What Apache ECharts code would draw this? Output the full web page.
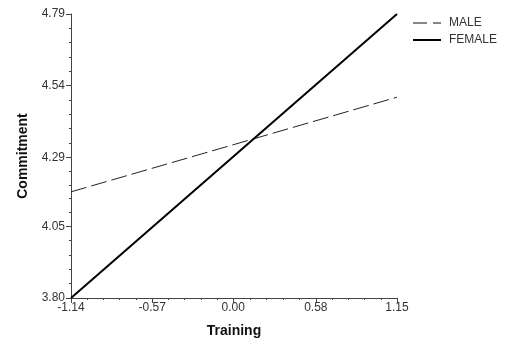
<!DOCTYPE html>
<html><head><meta charset="utf-8">
<script src="https://cdn.jsdelivr.net/npm/echarts@6/dist/echarts.min.js"></script>
<style>html,body{margin:0;padding:0;background:#fff}#c{width:508px;height:339px}</style>
</head><body><div id="c"></div>
<script>
const xTicks = [-1.14, -0.57, 0.00, 0.58, 1.15];
const yTicks = [3.80, 4.05, 4.29, 4.54, 4.79];
const seriesNames = ['MALE', 'FEMALE'];
const xEnds = [-1.14, 1.15];
const maleValues = [4.17, 4.50];
const femaleValues = [3.80, 4.79];

function minorOf(t){const out=[];for(let i=0;i<t.length-1;i++){for(let k=1;k<5;k++){out.push(t[i]+(t[i+1]-t[i])*k/5);}}return out;}
const font='Liberation Sans, Arial, sans-serif';
const axisColor='#444';
const chart=echarts.init(document.getElementById('c'),null,{renderer:'canvas'});
chart.setOption({
  animation:false,
  backgroundColor:'#fff',
  grid:{left:71,right:111,top:14,bottom:41,containLabel:false,outerBoundsMode:'none'},
  legend:{orient:'vertical',left:412,top:17,padding:0,itemWidth:28,itemHeight:14,itemGap:5,
    itemStyle:{opacity:0,borderWidth:0},
    textStyle:{fontFamily:font,fontSize:12,color:'#333',padding:[0,0,0,3]},
    data:[{name:seriesNames[0],lineStyle:{type:[14,6],width:1,color:'#111'}},
          {name:seriesNames[1],lineStyle:{type:'solid',width:2,color:'#000'}}]},
  xAxis:[{type:'value',min:xTicks[0],max:xTicks[xTicks.length-1],
    name:'Training',nameLocation:'middle',nameGap:26,
    nameTextStyle:{fontFamily:font,fontSize:14,fontWeight:'bold',color:'#111'},
    axisLine:{onZero:false,lineStyle:{color:axisColor,width:1}},
    axisTick:{customValues:xTicks,length:5,lineStyle:{color:axisColor}},
    axisLabel:{customValues:xTicks,formatter:v=>v.toFixed(2),fontFamily:font,fontSize:12,color:'#333',margin:4},
    splitLine:{show:false}},
   {type:'value',min:xTicks[0],max:xTicks[xTicks.length-1],position:'bottom',
    axisLine:{show:false,onZero:false},axisTick:{customValues:minorOf(xTicks),length:2,lineStyle:{color:axisColor}},
    axisLabel:{show:false},splitLine:{show:false}}],
  yAxis:[{type:'value',min:yTicks[0],max:yTicks[yTicks.length-1],
    name:'Commitment',nameLocation:'middle',nameGap:41,nameRotate:90,
    nameTextStyle:{fontFamily:font,fontSize:14,fontWeight:'bold',color:'#111'},
    axisLine:{show:true,onZero:false,lineStyle:{color:axisColor,width:1}},
    axisTick:{show:true,customValues:yTicks,length:5,lineStyle:{color:axisColor}},
    axisLabel:{customValues:yTicks,formatter:v=>v.toFixed(2),fontFamily:font,fontSize:12,color:'#333',margin:6},
    splitLine:{show:false}},
   {type:'value',min:yTicks[0],max:yTicks[yTicks.length-1],position:'left',
    axisLine:{show:false,onZero:false},axisTick:{show:true,customValues:minorOf(yTicks),length:2,lineStyle:{color:axisColor}},
    axisLabel:{show:false},splitLine:{show:false}}],
  series:[
    {name:seriesNames[0],type:'line',symbol:'none',xAxisIndex:0,yAxisIndex:0,
     data:xEnds.map((x,i)=>[x,maleValues[i]]),
     lineStyle:{color:'#222',width:1,type:[16,5]},itemStyle:{color:'#222'}},
    {name:seriesNames[1],type:'line',symbol:'none',xAxisIndex:0,yAxisIndex:0,
     data:xEnds.map((x,i)=>[x,femaleValues[i]]),
     lineStyle:{color:'#000',width:2,type:'solid'},itemStyle:{color:'#000'}}
  ]
});
</script></body></html>
